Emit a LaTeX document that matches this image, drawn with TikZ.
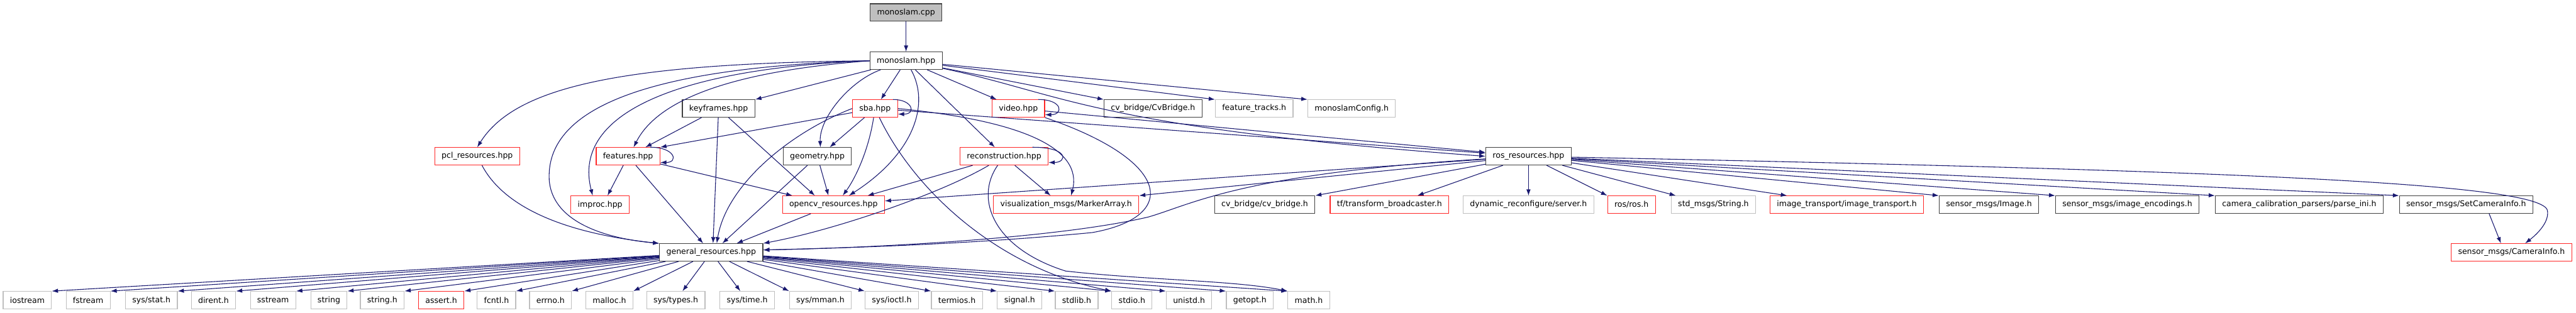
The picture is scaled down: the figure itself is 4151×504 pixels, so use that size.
\documentclass[tikz,border=0pt]{standalone}
\usepackage{fontspec}
\setmainfont{DejaVu Sans}
\usetikzlibrary{positioning, arrows.meta}
\definecolor{edgeblue}{HTML}{191970}
\definecolor{boxred}{HTML}{FF2626}
\definecolor{boxgrey}{HTML}{BFBFBF}
\definecolor{boxdark}{HTML}{404040}

\begin{document}
\begin{tikzpicture}[x=1pt, y=-1pt,
        hdr/.style={rectangle, draw, line width=1.2pt, fill=white, minimum height=28pt,
            inner xsep=11pt, inner ysep=0pt, font=\fontsize{12.7}{14}\selectfont},
        doc/.style={hdr, draw=boxdark},
        trunc/.style={hdr, draw=boxred},
        ext/.style={hdr, draw=boxgrey},
        rootfile/.style={hdr, draw=boxdark, fill=boxgrey},
        edge/.style={draw=edgeblue, line width=1.1pt, -{Latex[length=10pt, width=7pt]}}
    ]
    \useasboundingbox (0,0) rectangle (4151,504);
    % Top levels
    \node[rootfile] (cpp) at (1460, 20) {monoslam.cpp};
    \node[doc] (mhpp) at (1460, 98) {monoslam.hpp};
    \node[doc] (keyframes) at (1158, 175) {keyframes.hpp};
    \node[trunc] (sba) at (1410, 175) {sba.hpp};
    \node[trunc] (video) at (1641, 175) {video.hpp};
    \node[doc] (cvbridgeA) at (1858, 175) {cv\_bridge/CvBridge.h};
    \node[ext] (feattracks) at (2021, 175) {feature\_tracks.h};
    \node[ext] (config) at (2178, 175) {monoslamConfig.h};
    % Middle levels
    \node[trunc] (pcl) at (769, 252) {pcl\_resources.hpp};
    \node[trunc] (features) at (1012, 252) {features.hpp};
    \node[doc] (geometry) at (1317, 252) {geometry.hpp};
    \node[trunc] (recon) at (1618, 252) {reconstruction.hpp};
    \node[doc] (ros) at (2463, 252) {ros\_resources.hpp};
    \node[trunc] (improc) at (967, 330) {improc.hpp};
    \node[trunc] (opencv) at (1343, 330) {opencv\_resources.hpp};
    \node[trunc] (marker) at (1718, 330) {visualization\_msgs/MarkerArray.h};
    \node[doc] (cvbridgeB) at (2038, 330) {cv\_bridge/cv\_bridge.h};
    \node[trunc] (tf) at (2239, 330) {tf/transform\_broadcaster.h};
    \node[ext] (dynreconf) at (2463, 330) {dynamic\_reconfigure/server.h};
    \node[trunc] (rosros) at (2629, 330) {ros/ros.h};
    \node[ext] (stdstring) at (2761, 330) {std\_msgs/String.h};
    \node[trunc] (imgtrans) at (2976, 330) {image\_transport/image\_transport.h};
    \node[doc] (simage) at (3205, 330) {sensor\_msgs/Image.h};
    \node[doc] (sencod) at (3428, 330) {sensor\_msgs/image\_encodings.h};
    \node[doc] (parseini) at (3705, 330) {camera\_calibration\_parsers/parse\_ini.h};
    \node[doc] (setcam) at (3974, 330) {sensor\_msgs/SetCameraInfo.h};
    \node[doc] (general) at (1146, 407) {general\_resources.hpp};
    \node[trunc] (caminfo) at (4047, 407) {sensor\_msgs/CameraInfo.h};
    % System headers
    \foreach \n/\x/\t in {iostream/44/iostream, fstream/142/fstream, sysstat/244/{sys/stat.h},
        dirent/344/dirent.h, sstream/440/sstream, string/530/string, stringh/616/string.h,
        fcntl/800/fcntl.h, errno/887/errno.h, malloc/982/malloc.h, systypes/1089/{sys/types.h},
        systime/1204/{sys/time.h}, sysmman/1322/{sys/mman.h}, sysioctl/1437/{sys/ioctl.h},
        termios/1542/termios.h, signal/1643/signal.h, stdlib/1735/stdlib.h, stdio/1824/stdio.h,
        unistd/1916/unistd.h, getopt/2014/getopt.h, math/2109/math.h}
        \node[ext] (\n) at (\x, 484) {\t};
    \node[trunc] (assert) at (711, 484) {assert.h};

    % Edges from monoslam.cpp / monoslam.hpp
    \draw[edge] (cpp) -- (mhpp);
    \draw[edge] (mhpp.west) .. controls (1000,102) and (830,140) .. (pcl.north);
    \draw[edge] (mhpp.west) .. controls (1000,110) and (880,190) .. (885,290)
        .. controls (890,360) and (980,385) .. (general.north west);
    \draw[edge] (mhpp.west) .. controls (1100,110) and (920,180) .. ([xshift=-12pt]improc.north);
    \draw[edge] (mhpp.west) .. controls (1180,115) and (1060,160) .. ([xshift=9pt]features.north);
    \draw[edge] (mhpp) -- (keyframes.north east);
    \draw[edge] (mhpp) .. controls (1370,130) and (1320,190) .. ([xshift=5pt]geometry.north);
    \draw[edge] (mhpp) -- (sba);
    \draw[edge] (mhpp) .. controls (1500,170) and (1470,250) .. ([xshift=25pt]opencv.north);
    \draw[edge] (mhpp) -- ([xshift=-15pt]recon.north);
    \draw[edge] (mhpp) -- ([xshift=8pt]video.north west);
    \draw[edge] (mhpp) -- (cvbridgeA.north west);
    \draw[edge] (mhpp) -- (feattracks.north west);
    \draw[edge] (mhpp) -- (config.north west);
    \draw[edge] (mhpp) .. controls (1710,150) and (1760,205) .. (ros.west);
    % keyframes.hpp
    \draw[edge] (keyframes) -- ([xshift=28pt]features.north);
    \draw[edge] (keyframes) -- ([xshift=3pt]general.north);
    \draw[edge] (keyframes) -- ([xshift=-30pt]opencv.north);
    % sba.hpp
    \draw[edge] ([xshift=-8pt]sba.north east) .. controls +(32,0) and +(30,0) .. ([yshift=-9pt]sba.east);
    \draw[edge] (sba) -- (features.north east);
    \draw[edge] (sba.west) .. controls (1270,215) and (1170,300) .. ([xshift=9pt]general.north);
    \draw[edge] (sba) -- ([xshift=20pt]geometry.north);
    \draw[edge] (sba) .. controls (1400,240) and (1380,285) .. ([xshift=15pt]opencv.north);
    \draw[edge] (sba) .. controls (1470,300) and (1600,430) .. (stdio.north west);
    \draw[edge] (sba) -- (ros);
    \draw[edge] (sba.east) .. controls (1650,195) and (1745,240) .. ([xshift=8pt]marker.north);
    % video.hpp
    \draw[edge] ([xshift=-11pt]video.north east) .. controls +(40,0) and +(30,0) .. ([yshift=-10pt]video.east);
    \draw[edge] (video) -- (ros);
    \draw[edge] (video.south east) .. controls (1890,260) and (1900,350) .. (1760,375)
        .. controls (1550,395) and (1350,400) .. ([yshift=4pt]general.east);
    % reconstruction.hpp
    \draw[edge] ([xshift=-26pt]recon.north east) .. controls +(60,0) and +(30,0) .. ([yshift=-10pt]recon.east);
    \draw[edge] (recon) -- ([xshift=55pt]opencv.north);
    \draw[edge] (recon) .. controls (1520,310) and (1350,370) .. (general.north east);
    \draw[edge] (recon) .. controls (1570,320) and (1600,400) .. (1717,437)
        .. controls (1850,452) and (1990,452) .. (math.north west);
    \draw[edge] (recon) -- ([xshift=-25pt]marker.north);
    % features.hpp
    \draw[edge] ([xshift=-16pt]features.north east) .. controls +(40,0) and +(30,0) .. ([yshift=-10pt]features.east);
    \draw[edge] (features) -- ([xshift=12pt]improc.north);
    \draw[edge] (features) -- ([xshift=-13pt]general.north);
    \draw[edge] (features) -- ([xshift=-66pt]opencv.north);
    % geometry.hpp, opencv_resources.hpp, pcl_resources.hpp
    \draw[edge] (geometry) -- ([xshift=18pt]general.north);
    \draw[edge] (geometry) -- ([xshift=-8pt]opencv.north);
    \draw[edge] (opencv) -- ([xshift=41pt]general.north);
    \draw[edge] (pcl) .. controls (810,330) and (900,375) .. (general.north west);
    % ros_resources.hpp
    \draw[edge] (ros) -- ([yshift=6pt]opencv.east);
    \draw[edge] (ros) -- (marker.north east);
    \draw[edge] (ros) .. controls (2000,280) and (1920,330) .. (1850,350)
        .. controls (1700,385) and (1400,400) .. ([yshift=4pt]general.east);
    \draw[edge] (ros) -- (cvbridgeB.north east);
    \draw[edge] (ros) -- ([xshift=45pt]tf.north);
    \draw[edge] (ros) -- (dynreconf);
    \draw[edge] (ros) -- (rosros.north west);
    \draw[edge] (ros) -- ([xshift=8pt]stdstring.north west);
    \draw[edge] (ros) -- ([xshift=28pt]imgtrans.north west);
    \draw[edge] (ros) -- (simage.north west);
    \draw[edge] (ros) -- (sencod.north west);
    \draw[edge] (ros) -- (parseini.north west);
    \draw[edge] (ros) -- (setcam.north west);
    \draw[edge] (ros) .. controls (3600,275) and (4100,295) .. (4105,340)
        .. controls (4108,360) and (4085,380) .. ([xshift=22pt]caminfo.north);
    \draw[edge] ([xshift=37pt]setcam.south) -- ([xshift=-17pt]caminfo.north);
    % general_resources.hpp to system headers
    \foreach \t in {iostream, fstream, sysstat, dirent, sstream, string, stringh, assert, fcntl, errno, malloc}
        \draw[edge] (general) -- (\t.north east);
    \foreach \t in {systypes, systime}
        \draw[edge] (general) -- (\t);
    \foreach \t in {sysmman, sysioctl, termios, signal, stdlib, stdio, unistd, getopt, math}
        \draw[edge] (general) -- (\t.north west);
\end{tikzpicture}
\end{document}
